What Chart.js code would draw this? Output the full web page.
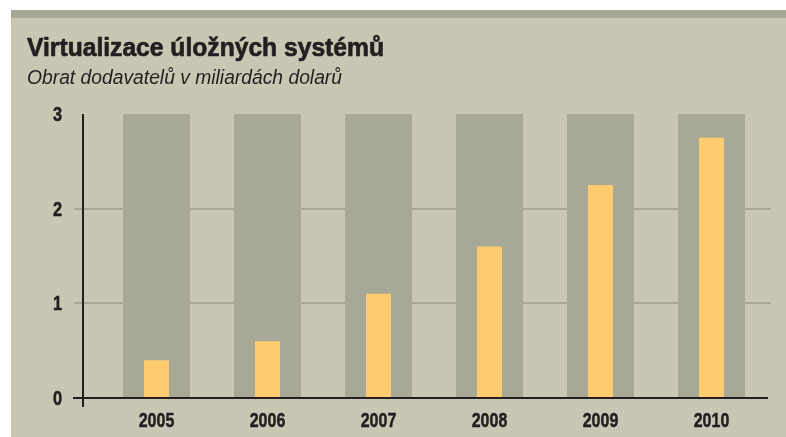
<!DOCTYPE html>
<html>
<head>
<meta charset="utf-8">
<script src="https://cdn.jsdelivr.net/npm/chart.js@4/dist/chart.umd.min.js"></script>
<style>
  html, body { margin: 0; padding: 0; background: #ffffff; }
  #wrap { position: relative; width: 786px; height: 437px; }
</style>
</head>
<body>
<div id="wrap"><canvas id="chart" width="786" height="437"></canvas></div>
<script>
// Vendor revenue, billions of USD
const years = ['2005', '2006', '2007', '2008', '2009', '2010'];
const revenue = [0.4, 0.6, 1.1, 1.6, 2.25, 2.75];
// Full-height backdrop columns behind each year's bar
const backdrop = [3, 3, 3, 3, 3, 3];
const yTicks = [0, 1, 2, 3];
const gridValues = [1, 2];

const titleText = 'Virtualizace úložných systémů';
const subtitleText = 'Obrat dodavatelů v miliardách dolarů';

const INK = '#231f20';
const PANEL = '#c9c6b3';
const STRIPE = '#a6a794';
const COLUMN = '#a7a896';
const BAR = '#fecc6e';
const GRID = '#a9a995';
const FACE = '"Liberation Sans", Arial, sans-serif';

// Draws text squeezed horizontally to imitate a condensed typeface;
// a thin outline thickens the heavy weights.
function condensedText(ctx, text, x, y, font, align, squeeze, heavy) {
  ctx.save();
  ctx.font = font;
  ctx.fillStyle = INK;
  ctx.strokeStyle = INK;
  ctx.textAlign = align;
  ctx.textBaseline = 'alphabetic';
  ctx.translate(x, y);
  ctx.scale(squeeze, 1);
  ctx.fillText(text, 0, 0);
  if (heavy) {
    ctx.lineWidth = heavy;
    ctx.lineJoin = 'round';
    ctx.strokeText(text, 0, 0);
  }
  ctx.restore();
}

// Squeeze factor that makes a string span the given width.
function fitSqueeze(ctx, text, font, width) {
  ctx.save();
  ctx.font = font;
  const w = ctx.measureText(text).width;
  ctx.restore();
  return width / w;
}

const panelPlugin = {
  id: 'panel',
  beforeDraw(chart) {
    const { ctx, width, height } = chart;
    ctx.save();
    ctx.fillStyle = '#ffffff';
    ctx.fillRect(0, 0, width, height);
    ctx.fillStyle = PANEL;
    ctx.fillRect(11, 10, width - 11, height - 10);
    ctx.fillStyle = STRIPE;
    ctx.fillRect(11, 10, width - 11, 8);
    ctx.restore();
  }
};

const headingPlugin = {
  id: 'heading',
  afterDraw(chart) {
    const { ctx } = chart;
    const tFont = 'bold 26px ' + FACE;
    const sFont = 'italic 20px ' + FACE;
    condensedText(ctx, titleText, 27, 56, tFont, 'left', fitSqueeze(ctx, titleText, tFont, 357), 0.7);
    condensedText(ctx, subtitleText, 27, 83.5, sFont, 'left', fitSqueeze(ctx, subtitleText, sFont, 315), 0);
  }
};

const axesPlugin = {
  id: 'axesAndGrid',
  beforeDatasetsDraw(chart) {
    const { ctx, chartArea, scales: { y } } = chart;
    ctx.save();
    ctx.strokeStyle = GRID;
    ctx.lineWidth = 2;
    gridValues.forEach(v => {
      const py = Math.round(y.getPixelForValue(v));
      ctx.beginPath();
      ctx.moveTo(chartArea.left - 27, py);
      ctx.lineTo(chartArea.right + 4, py);
      ctx.stroke();
    });
    ctx.restore();
  },
  afterDatasetsDraw(chart) {
    const { ctx, chartArea, scales: { x, y } } = chart;
    const y0 = y.getPixelForValue(0);
    const y3 = y.getPixelForValue(3);
    ctx.save();
    ctx.strokeStyle = INK;
    ctx.lineWidth = 2;
    ctx.beginPath();
    ctx.moveTo(chartArea.left - 28, y0);
    ctx.lineTo(chartArea.right + 1, y0);
    ctx.moveTo(chartArea.left - 18, y3);
    ctx.lineTo(chartArea.left - 18, y0 + 9);
    ctx.stroke();
    ctx.restore();

    const tickFont = 'bold 21px ' + FACE;
    yTicks.forEach(v => {
      condensedText(ctx, String(v), chartArea.left - 39, y.getPixelForValue(v) + 7, tickFont, 'right', 0.78, 0.5);
    });
    years.forEach((label, i) => {
      condensedText(ctx, label, x.getPixelForTick(i), y0 + 28.5, tickFont, 'center', 0.76, 0.5);
    });
  }
};

new Chart(document.getElementById('chart'), {
  type: 'bar',
  data: {
    labels: years,
    datasets: [
      {
        data: revenue,
        backgroundColor: BAR,
        barPercentage: 25 / 111,
        categoryPercentage: 1,
        grouped: false,
        order: 0
      },
      {
        data: backdrop,
        backgroundColor: COLUMN,
        barPercentage: 67 / 111,
        categoryPercentage: 1,
        grouped: false,
        order: 1
      }
    ]
  },
  plugins: [panelPlugin, axesPlugin, headingPlugin],
  options: {
    responsive: false,
    animation: false,
    layout: { padding: { top: 114, left: 101, right: 19, bottom: 39 } },
    plugins: {
      legend: { display: false },
      tooltip: { enabled: false },
      title: { display: false },
      subtitle: { display: false }
    },
    scales: {
      x: { display: false },
      y: { display: false, min: 0, max: 3 }
    }
  }
});
</script>
</body>
</html>
